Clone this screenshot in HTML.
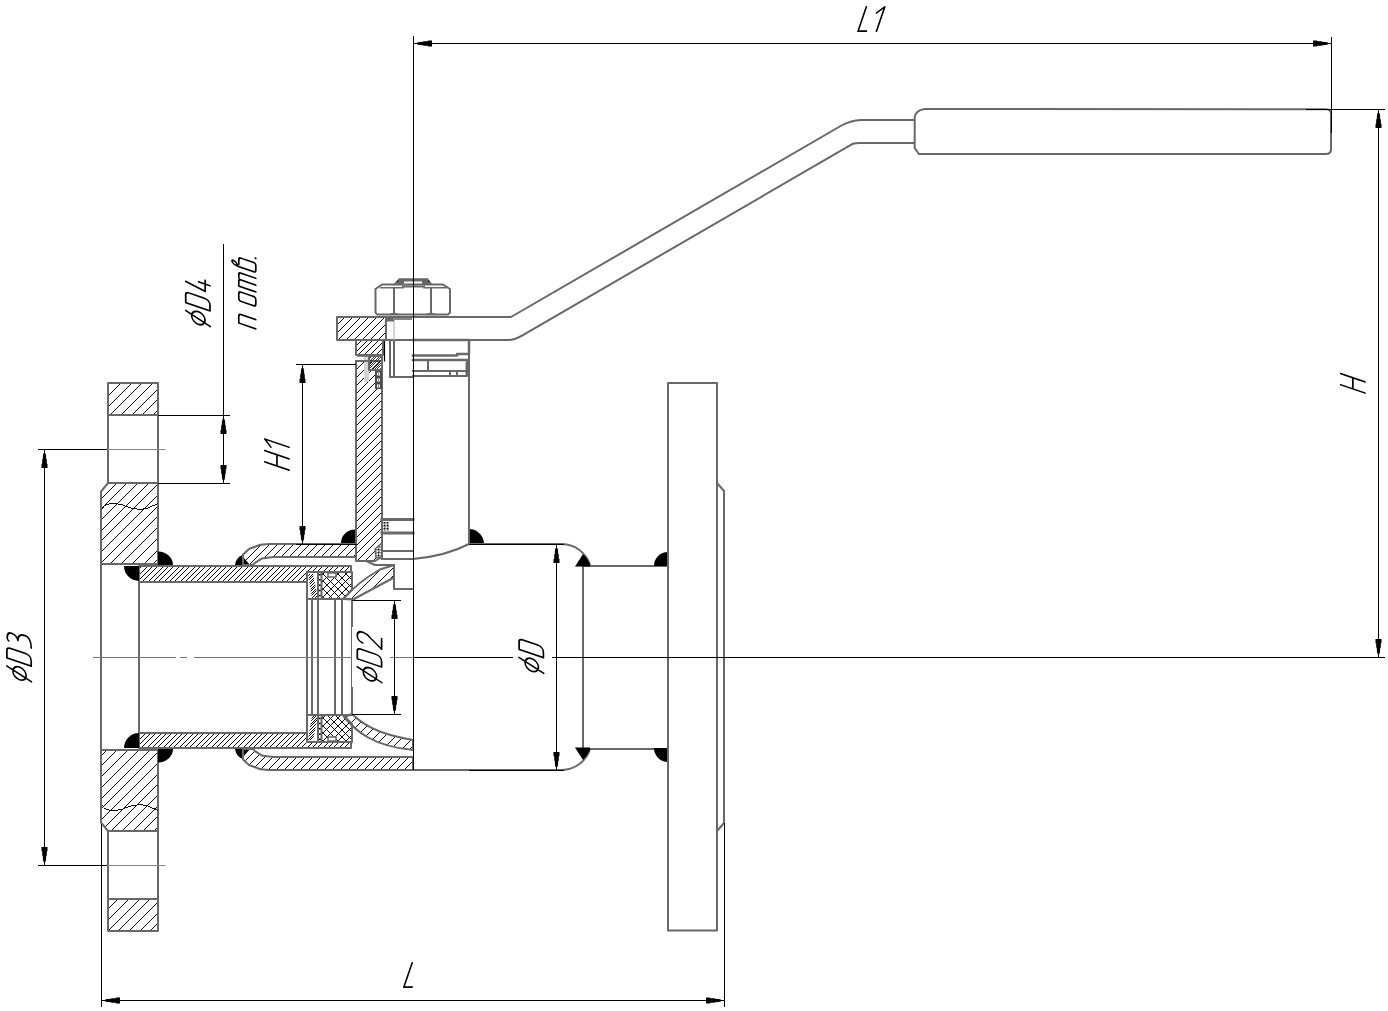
<!DOCTYPE html>
<html><head><meta charset="utf-8"><title>Ball valve drawing</title>
<style>html,body{margin:0;padding:0;background:#fff;overflow:hidden;font-family:"Liberation Sans",sans-serif}svg{display:block}</style>
</head><body><svg width="1388" height="1011" viewBox="0 0 1388 1011">
<defs>
<pattern id="h11" patternUnits="userSpaceOnUse" width="10.8" height="10.8"><path d="M-1,1 L1,-1 M0,10.8 L10.8,0 M9.8,11.8 L11.8,9.8" stroke="#000" stroke-width="1" shape-rendering="crispEdges"/></pattern>
<pattern id="h8" patternUnits="userSpaceOnUse" width="8.2" height="8.2"><path d="M-1,1 L1,-1 M0,8.2 L8.2,0 M7.2,9.2 L9.2,7.2" stroke="#000" stroke-width="1" shape-rendering="crispEdges"/></pattern>
<pattern id="h9" patternUnits="userSpaceOnUse" width="9.5" height="9.5"><path d="M-1,1 L1,-1 M0,9.5 L9.5,0 M8.5,10.5 L10.5,8.5" stroke="#000" stroke-width="1" shape-rendering="crispEdges"/></pattern>
<pattern id="h5" patternUnits="userSpaceOnUse" width="5.3" height="5.3"><path d="M-1,1 L1,-1 M0,5.3 L5.3,0 M4.3,6.3 L6.3,4.3" stroke="#000" stroke-width="1" shape-rendering="crispEdges"/></pattern>
<pattern id="h3" patternUnits="userSpaceOnUse" width="2.6" height="2.6"><path d="M-1,1 L1,-1 M0,2.6 L2.6,0 M1.6,3.6 L3.6,1.6" stroke="#222" stroke-width="0.8"/></pattern>
<pattern id="hx" patternUnits="userSpaceOnUse" width="7.6" height="7.6"><path d="M-1,1 L1,-1 M0,7.6 L7.6,0 M6.6,8.6 L8.6,6.6 M-1,6.6 L1,8.6 M0,0 L7.6,7.6 M6.6,-1 L8.6,1" stroke="#000" stroke-width="1" shape-rendering="crispEdges"/><rect x="2.9" y="2.9" width="1.8" height="1.8" fill="#000"/></pattern>
<pattern id="hd" patternUnits="userSpaceOnUse" width="3" height="3"><rect width="3" height="3" fill="#8a8a8a"/><rect x="0" y="0" width="1" height="1" fill="#000"/><rect x="1.5" y="1.5" width="1.5" height="1.5" fill="#fff"/></pattern>
</defs>
<rect width="1388" height="1011" fill="#fff"/><clipPath id="c1"><path d="M108,383 L158,383 L158,415 L108,415 Z"/></clipPath>
<path clip-path="url(#c1)" d="M15.40,435.00 L87.40,363.00 M26.10,435.00 L98.10,363.00 M36.80,435.00 L108.80,363.00 M47.50,435.00 L119.50,363.00 M58.20,435.00 L130.20,363.00 M68.90,435.00 L140.90,363.00 M79.60,435.00 L151.60,363.00 M90.30,435.00 L162.30,363.00 M101.00,435.00 L173.00,363.00 M111.70,435.00 L183.70,363.00 M122.40,435.00 L194.40,363.00 M133.10,435.00 L205.10,363.00 M143.80,435.00 L215.80,363.00 M154.50,435.00 L226.50,363.00 M165.20,435.00 L237.20,363.00 M175.90,435.00 L247.90,363.00" stroke="#000" stroke-width="0.95" fill="none" shape-rendering="crispEdges"/>
<path d="M108,383 L158,383 L158,415 L108,415 Z" stroke="#686868" stroke-width="2" fill="none" stroke-linejoin="round"/>
<clipPath id="c2"><path d="M 108 931 L 158 931 L 158 899 L 108 899 Z"/></clipPath>
<path clip-path="url(#c2)" d="M12.60,951.00 L84.60,879.00 M23.30,951.00 L95.30,879.00 M34.00,951.00 L106.00,879.00 M44.70,951.00 L116.70,879.00 M55.40,951.00 L127.40,879.00 M66.10,951.00 L138.10,879.00 M76.80,951.00 L148.80,879.00 M87.50,951.00 L159.50,879.00 M98.20,951.00 L170.20,879.00 M108.90,951.00 L180.90,879.00 M119.60,951.00 L191.60,879.00 M130.30,951.00 L202.30,879.00 M141.00,951.00 L213.00,879.00 M151.70,951.00 L223.70,879.00 M162.40,951.00 L234.40,879.00 M173.10,951.00 L245.10,879.00" stroke="#000" stroke-width="0.95" fill="none" shape-rendering="crispEdges"/>
<path d="M 108 931 L 158 931 L 158 899 L 108 899 Z" stroke="#686868" stroke-width="2" fill="none" stroke-linejoin="round"/>
<clipPath id="c3"><path d="M108,483 L158,483 L158,564 L101,564 L101,491.6 Z"/></clipPath>
<path clip-path="url(#c3)" d="M-48.70,584.00 L72.30,463.00 M-38.00,584.00 L83.00,463.00 M-27.30,584.00 L93.70,463.00 M-16.60,584.00 L104.40,463.00 M-5.90,584.00 L115.10,463.00 M4.80,584.00 L125.80,463.00 M15.50,584.00 L136.50,463.00 M26.20,584.00 L147.20,463.00 M36.90,584.00 L157.90,463.00 M47.60,584.00 L168.60,463.00 M58.30,584.00 L179.30,463.00 M69.00,584.00 L190.00,463.00 M79.70,584.00 L200.70,463.00 M90.40,584.00 L211.40,463.00 M101.10,584.00 L222.10,463.00 M111.80,584.00 L232.80,463.00 M122.50,584.00 L243.50,463.00 M133.20,584.00 L254.20,463.00 M143.90,584.00 L264.90,463.00 M154.60,584.00 L275.60,463.00 M165.30,584.00 L286.30,463.00 M176.00,584.00 L297.00,463.00" stroke="#000" stroke-width="0.95" fill="none" shape-rendering="crispEdges"/>
<path d="M108,483 L158,483 L158,564 L101,564 L101,491.6 Z" stroke="#686868" stroke-width="2" fill="none" stroke-linejoin="round"/>
<clipPath id="c4"><path d="M 108 831 L 158 831 L 158 750 L 101 750 L 101 822.4 Z"/></clipPath>
<path clip-path="url(#c4)" d="M-47.80,851.00 L73.20,730.00 M-37.10,851.00 L83.90,730.00 M-26.40,851.00 L94.60,730.00 M-15.70,851.00 L105.30,730.00 M-5.00,851.00 L116.00,730.00 M5.70,851.00 L126.70,730.00 M16.40,851.00 L137.40,730.00 M27.10,851.00 L148.10,730.00 M37.80,851.00 L158.80,730.00 M48.50,851.00 L169.50,730.00 M59.20,851.00 L180.20,730.00 M69.90,851.00 L190.90,730.00 M80.60,851.00 L201.60,730.00 M91.30,851.00 L212.30,730.00 M102.00,851.00 L223.00,730.00 M112.70,851.00 L233.70,730.00 M123.40,851.00 L244.40,730.00 M134.10,851.00 L255.10,730.00 M144.80,851.00 L265.80,730.00 M155.50,851.00 L276.50,730.00 M166.20,851.00 L287.20,730.00 M176.90,851.00 L297.90,730.00" stroke="#000" stroke-width="0.95" fill="none" shape-rendering="crispEdges"/>
<path d="M 108 831 L 158 831 L 158 750 L 101 750 L 101 822.4 Z" stroke="#686868" stroke-width="2" fill="none" stroke-linejoin="round"/>
<path d="M108,415 L108,483 M158,415 L158,483" stroke="#686868" stroke-width="2" fill="none" stroke-linejoin="round" stroke-linecap="square"/>
<path d="M 108 899 L 108 831 M 158 899 L 158 831" stroke="#686868" stroke-width="2" fill="none" stroke-linejoin="round" stroke-linecap="square"/>
<path d="M101.5,508.5 C105,505 108,503.5 112,503.5 C118,503.5 123,505 129,507.3 C135,509.5 141,509.6 146,508.5 C150,507.5 154,505 158,503.5" stroke="#000" stroke-width="0.95" fill="none" shape-rendering="crispEdges"/>
<path d="M 101.5 805.5 C 105 809 108 810.5 112 810.5 C 118 810.5 123 809 129 806.7 C 135 804.5 141 804.4 146 805.5 C 150 806.5 154 809 158 810.5" stroke="#000" stroke-width="0.95" fill="none" shape-rendering="crispEdges"/>
<path d="M101,564 L101,750" stroke="#686868" stroke-width="2" fill="none" stroke-linejoin="round" stroke-linecap="square"/>
<path d="M107,449.5 L165,449.5 M107,865.5 L165,865.5" stroke="#888" stroke-width="1" fill="none" stroke-linejoin="round" stroke-linecap="square"/>
<clipPath id="c5"><path d="M139,566 L351,566 L351,572 L307,572 L307,582 L139,582 Z"/></clipPath>
<path clip-path="url(#c5)" d="M58.24,602.00 L114.24,546.00 M63.57,602.00 L119.57,546.00 M68.90,602.00 L124.90,546.00 M74.23,602.00 L130.23,546.00 M79.56,602.00 L135.56,546.00 M84.89,602.00 L140.89,546.00 M90.22,602.00 L146.22,546.00 M95.55,602.00 L151.55,546.00 M100.88,602.00 L156.88,546.00 M106.21,602.00 L162.21,546.00 M111.54,602.00 L167.54,546.00 M116.87,602.00 L172.87,546.00 M122.20,602.00 L178.20,546.00 M127.53,602.00 L183.53,546.00 M132.86,602.00 L188.86,546.00 M138.19,602.00 L194.19,546.00 M143.52,602.00 L199.52,546.00 M148.85,602.00 L204.85,546.00 M154.18,602.00 L210.18,546.00 M159.51,602.00 L215.51,546.00 M164.84,602.00 L220.84,546.00 M170.17,602.00 L226.17,546.00 M175.50,602.00 L231.50,546.00 M180.83,602.00 L236.83,546.00 M186.16,602.00 L242.16,546.00 M191.49,602.00 L247.49,546.00 M196.82,602.00 L252.82,546.00 M202.15,602.00 L258.15,546.00 M207.48,602.00 L263.48,546.00 M212.81,602.00 L268.81,546.00 M218.14,602.00 L274.14,546.00 M223.47,602.00 L279.47,546.00 M228.80,602.00 L284.80,546.00 M234.13,602.00 L290.13,546.00 M239.46,602.00 L295.46,546.00 M244.79,602.00 L300.79,546.00 M250.12,602.00 L306.12,546.00 M255.45,602.00 L311.45,546.00 M260.78,602.00 L316.78,546.00 M266.11,602.00 L322.11,546.00 M271.44,602.00 L327.44,546.00 M276.77,602.00 L332.77,546.00 M282.10,602.00 L338.10,546.00 M287.43,602.00 L343.43,546.00 M292.76,602.00 L348.76,546.00 M298.09,602.00 L354.09,546.00 M303.42,602.00 L359.42,546.00 M308.75,602.00 L364.75,546.00 M314.08,602.00 L370.08,546.00 M319.41,602.00 L375.41,546.00 M324.74,602.00 L380.74,546.00 M330.07,602.00 L386.07,546.00 M335.40,602.00 L391.40,546.00 M340.73,602.00 L396.73,546.00 M346.06,602.00 L402.06,546.00 M351.39,602.00 L407.39,546.00 M356.72,602.00 L412.72,546.00 M362.05,602.00 L418.05,546.00 M367.38,602.00 L423.38,546.00" stroke="#000" stroke-width="0.95" fill="none" shape-rendering="crispEdges"/>
<path d="M139,566 L351,566 L351,572 L307,572 L307,582 L139,582 Z" stroke="#686868" stroke-width="2" fill="none" stroke-linejoin="round"/>
<clipPath id="c6"><path d="M139,748 L351,748 L351,742 L307,742 L307,733 L139,733 Z"/></clipPath>
<path clip-path="url(#c6)" d="M62.80,768.00 L117.80,713.00 M68.13,768.00 L123.13,713.00 M73.46,768.00 L128.46,713.00 M78.79,768.00 L133.79,713.00 M84.12,768.00 L139.12,713.00 M89.45,768.00 L144.45,713.00 M94.78,768.00 L149.78,713.00 M100.11,768.00 L155.11,713.00 M105.44,768.00 L160.44,713.00 M110.77,768.00 L165.77,713.00 M116.10,768.00 L171.10,713.00 M121.43,768.00 L176.43,713.00 M126.76,768.00 L181.76,713.00 M132.09,768.00 L187.09,713.00 M137.42,768.00 L192.42,713.00 M142.75,768.00 L197.75,713.00 M148.08,768.00 L203.08,713.00 M153.41,768.00 L208.41,713.00 M158.74,768.00 L213.74,713.00 M164.07,768.00 L219.07,713.00 M169.40,768.00 L224.40,713.00 M174.73,768.00 L229.73,713.00 M180.06,768.00 L235.06,713.00 M185.39,768.00 L240.39,713.00 M190.72,768.00 L245.72,713.00 M196.05,768.00 L251.05,713.00 M201.38,768.00 L256.38,713.00 M206.71,768.00 L261.71,713.00 M212.04,768.00 L267.04,713.00 M217.37,768.00 L272.37,713.00 M222.70,768.00 L277.70,713.00 M228.03,768.00 L283.03,713.00 M233.36,768.00 L288.36,713.00 M238.69,768.00 L293.69,713.00 M244.02,768.00 L299.02,713.00 M249.35,768.00 L304.35,713.00 M254.68,768.00 L309.68,713.00 M260.01,768.00 L315.01,713.00 M265.34,768.00 L320.34,713.00 M270.67,768.00 L325.67,713.00 M276.00,768.00 L331.00,713.00 M281.33,768.00 L336.33,713.00 M286.66,768.00 L341.66,713.00 M291.99,768.00 L346.99,713.00 M297.32,768.00 L352.32,713.00 M302.65,768.00 L357.65,713.00 M307.98,768.00 L362.98,713.00 M313.31,768.00 L368.31,713.00 M318.64,768.00 L373.64,713.00 M323.97,768.00 L378.97,713.00 M329.30,768.00 L384.30,713.00 M334.63,768.00 L389.63,713.00 M339.96,768.00 L394.96,713.00 M345.29,768.00 L400.29,713.00 M350.62,768.00 L405.62,713.00 M355.95,768.00 L410.95,713.00 M361.28,768.00 L416.28,713.00 M366.61,768.00 L421.61,713.00" stroke="#000" stroke-width="0.95" fill="none" shape-rendering="crispEdges"/>
<path d="M139,748 L351,748 L351,742 L307,742 L307,733 L139,733 Z" stroke="#686868" stroke-width="2" fill="none" stroke-linejoin="round"/>
<path d="M139,582 L139,733" stroke="#686868" stroke-width="2" fill="none" stroke-linejoin="round" stroke-linecap="square"/>
<path d="M139,566 L124,566 A15,15 0 0 0 139,581 Z" stroke="none" stroke-width="0" fill="#000" />
<path d="M 139 748 L 124 748 A 15 15 0 0 1 139 733 Z" stroke="none" stroke-width="0" fill="#000" />
<path d="M158,565 L173,565 A15,13.5 0 0 0 158,551.5 Z" stroke="none" stroke-width="0" fill="#000" />
<path d="M 158 749 L 173 749 A 15 13.5 0 0 1 158 762.5 Z" stroke="none" stroke-width="0" fill="#000" />
<path d="M235,565 Q236,557.5 242.5,555 L243.5,557.5 L250,565 Z" stroke="none" stroke-width="0" fill="#000" />
<path d="M 235 749 Q 236 756.5 242.5 759 L 243.5 756.5 L 250 749 Z" stroke="none" stroke-width="0" fill="#000" />
<clipPath id="c7"><path d="M356,544 L269,544 L260.5,544.7 L249,549 L243,554.5 L243,565 L252.5,565 L255.3,562.7 L261.7,558.6 L267.4,557.7 L274,557 L356,557 Z"/></clipPath>
<path clip-path="url(#c7)" d="M157.20,585.00 L218.20,524.00 M165.20,585.00 L226.20,524.00 M173.20,585.00 L234.20,524.00 M181.20,585.00 L242.20,524.00 M189.20,585.00 L250.20,524.00 M197.20,585.00 L258.20,524.00 M205.20,585.00 L266.20,524.00 M213.20,585.00 L274.20,524.00 M221.20,585.00 L282.20,524.00 M229.20,585.00 L290.20,524.00 M237.20,585.00 L298.20,524.00 M245.20,585.00 L306.20,524.00 M253.20,585.00 L314.20,524.00 M261.20,585.00 L322.20,524.00 M269.20,585.00 L330.20,524.00 M277.20,585.00 L338.20,524.00 M285.20,585.00 L346.20,524.00 M293.20,585.00 L354.20,524.00 M301.20,585.00 L362.20,524.00 M309.20,585.00 L370.20,524.00 M317.20,585.00 L378.20,524.00 M325.20,585.00 L386.20,524.00 M333.20,585.00 L394.20,524.00 M341.20,585.00 L402.20,524.00 M349.20,585.00 L410.20,524.00 M357.20,585.00 L418.20,524.00 M365.20,585.00 L426.20,524.00 M373.20,585.00 L434.20,524.00" stroke="#000" stroke-width="0.95" fill="none" shape-rendering="crispEdges"/>
<path d="M356,544 L269,544 L260.5,544.7 L249,549 L243,554.5 L243,565 L252.5,565 L255.3,562.7 L261.7,558.6 L267.4,557.7 L274,557 L356,557 Z" stroke="#686868" stroke-width="2" fill="none" stroke-linejoin="round"/>
<clipPath id="c8"><path d="M 413 770 L 269 770 L 260.5 769.3 L 249 765 L 243 759.5 L 243 749 L 252.5 749 L 255.3 751.3 L 261.7 755.4 L 267.4 756.3 L 274 757 L 413 757 Z"/></clipPath>
<path clip-path="url(#c8)" d="M159.60,790.00 L220.60,729.00 M167.60,790.00 L228.60,729.00 M175.60,790.00 L236.60,729.00 M183.60,790.00 L244.60,729.00 M191.60,790.00 L252.60,729.00 M199.60,790.00 L260.60,729.00 M207.60,790.00 L268.60,729.00 M215.60,790.00 L276.60,729.00 M223.60,790.00 L284.60,729.00 M231.60,790.00 L292.60,729.00 M239.60,790.00 L300.60,729.00 M247.60,790.00 L308.60,729.00 M255.60,790.00 L316.60,729.00 M263.60,790.00 L324.60,729.00 M271.60,790.00 L332.60,729.00 M279.60,790.00 L340.60,729.00 M287.60,790.00 L348.60,729.00 M295.60,790.00 L356.60,729.00 M303.60,790.00 L364.60,729.00 M311.60,790.00 L372.60,729.00 M319.60,790.00 L380.60,729.00 M327.60,790.00 L388.60,729.00 M335.60,790.00 L396.60,729.00 M343.60,790.00 L404.60,729.00 M351.60,790.00 L412.60,729.00 M359.60,790.00 L420.60,729.00 M367.60,790.00 L428.60,729.00 M375.60,790.00 L436.60,729.00 M383.60,790.00 L444.60,729.00 M391.60,790.00 L452.60,729.00 M399.60,790.00 L460.60,729.00 M407.60,790.00 L468.60,729.00 M415.60,790.00 L476.60,729.00 M423.60,790.00 L484.60,729.00 M431.60,790.00 L492.60,729.00" stroke="#000" stroke-width="0.95" fill="none" shape-rendering="crispEdges"/>
<path d="M 413 770 L 269 770 L 260.5 769.3 L 249 765 L 243 759.5 L 243 749 L 252.5 749 L 255.3 751.3 L 261.7 755.4 L 267.4 756.3 L 274 757 L 413 757 Z" stroke="#686868" stroke-width="2" fill="none" stroke-linejoin="round"/>
<path d="M355,543 L341,543 A14,13.5 0 0 1 355,529.5 Z" stroke="none" stroke-width="0" fill="#000" />
<path d="M469,544 L484,544 A15,15 0 0 0 469,529 Z" stroke="none" stroke-width="0" fill="#000" />
<clipPath id="c9"><path d="M356,361 L382,361 L382,557 L375,561 L356,561 Z"/></clipPath>
<path clip-path="url(#c9)" d="M88.60,581.00 L328.60,341.00 M96.60,581.00 L336.60,341.00 M104.60,581.00 L344.60,341.00 M112.60,581.00 L352.60,341.00 M120.60,581.00 L360.60,341.00 M128.60,581.00 L368.60,341.00 M136.60,581.00 L376.60,341.00 M144.60,581.00 L384.60,341.00 M152.60,581.00 L392.60,341.00 M160.60,581.00 L400.60,341.00 M168.60,581.00 L408.60,341.00 M176.60,581.00 L416.60,341.00 M184.60,581.00 L424.60,341.00 M192.60,581.00 L432.60,341.00 M200.60,581.00 L440.60,341.00 M208.60,581.00 L448.60,341.00 M216.60,581.00 L456.60,341.00 M224.60,581.00 L464.60,341.00 M232.60,581.00 L472.60,341.00 M240.60,581.00 L480.60,341.00 M248.60,581.00 L488.60,341.00 M256.60,581.00 L496.60,341.00 M264.60,581.00 L504.60,341.00 M272.60,581.00 L512.60,341.00 M280.60,581.00 L520.60,341.00 M288.60,581.00 L528.60,341.00 M296.60,581.00 L536.60,341.00 M304.60,581.00 L544.60,341.00 M312.60,581.00 L552.60,341.00 M320.60,581.00 L560.60,341.00 M328.60,581.00 L568.60,341.00 M336.60,581.00 L576.60,341.00 M344.60,581.00 L584.60,341.00 M352.60,581.00 L592.60,341.00 M360.60,581.00 L600.60,341.00 M368.60,581.00 L608.60,341.00 M376.60,581.00 L616.60,341.00 M384.60,581.00 L624.60,341.00 M392.60,581.00 L632.60,341.00 M400.60,581.00 L640.60,341.00" stroke="#000" stroke-width="0.95" fill="none" shape-rendering="crispEdges"/>
<path d="M356,361 L382,361 L382,557 L375,561 L356,561 Z" stroke="#686868" stroke-width="2" fill="none" stroke-linejoin="round"/>
<clipPath id="c10"><path d="M356,340 L383,340 L383,355 L356,355 Z"/></clipPath>
<path clip-path="url(#c10)" d="M280.40,375.00 L335.40,320.00 M286.20,375.00 L341.20,320.00 M292.00,375.00 L347.00,320.00 M297.80,375.00 L352.80,320.00 M303.60,375.00 L358.60,320.00 M309.40,375.00 L364.40,320.00 M315.20,375.00 L370.20,320.00 M321.00,375.00 L376.00,320.00 M326.80,375.00 L381.80,320.00 M332.60,375.00 L387.60,320.00 M338.40,375.00 L393.40,320.00 M344.20,375.00 L399.20,320.00 M350.00,375.00 L405.00,320.00 M355.80,375.00 L410.80,320.00 M361.60,375.00 L416.60,320.00 M367.40,375.00 L422.40,320.00 M373.20,375.00 L428.20,320.00 M379.00,375.00 L434.00,320.00 M384.80,375.00 L439.80,320.00 M390.60,375.00 L445.60,320.00 M396.40,375.00 L451.40,320.00 M402.20,375.00 L457.20,320.00" stroke="#000" stroke-width="0.95" fill="none" shape-rendering="crispEdges"/>
<path d="M356,340 L383,340 L383,355 L356,355 Z" stroke="#686868" stroke-width="2" fill="none" stroke-linejoin="round"/>
<rect x="364" y="356" width="5" height="26" fill="#d4d4d4"/>
<clipPath id="c11"><path d="M369,356 L382,356 L382,370 L369,370 Z"/></clipPath>
<path clip-path="url(#c11)" d="M293.80,390.00 L347.80,336.00 M296.40,390.00 L350.40,336.00 M299.00,390.00 L353.00,336.00 M301.60,390.00 L355.60,336.00 M304.20,390.00 L358.20,336.00 M306.80,390.00 L360.80,336.00 M309.40,390.00 L363.40,336.00 M312.00,390.00 L366.00,336.00 M314.60,390.00 L368.60,336.00 M317.20,390.00 L371.20,336.00 M319.80,390.00 L373.80,336.00 M322.40,390.00 L376.40,336.00 M325.00,390.00 L379.00,336.00 M327.60,390.00 L381.60,336.00 M330.20,390.00 L384.20,336.00 M332.80,390.00 L386.80,336.00 M335.40,390.00 L389.40,336.00 M338.00,390.00 L392.00,336.00 M340.60,390.00 L394.60,336.00 M343.20,390.00 L397.20,336.00 M345.80,390.00 L399.80,336.00 M348.40,390.00 L402.40,336.00 M351.00,390.00 L405.00,336.00 M353.60,390.00 L407.60,336.00 M356.20,390.00 L410.20,336.00 M358.80,390.00 L412.80,336.00 M361.40,390.00 L415.40,336.00 M364.00,390.00 L418.00,336.00 M366.60,390.00 L420.60,336.00 M369.20,390.00 L423.20,336.00 M371.80,390.00 L425.80,336.00 M374.40,390.00 L428.40,336.00 M377.00,390.00 L431.00,336.00 M379.60,390.00 L433.60,336.00 M382.20,390.00 L436.20,336.00 M384.80,390.00 L438.80,336.00 M387.40,390.00 L441.40,336.00 M390.00,390.00 L444.00,336.00 M392.60,390.00 L446.60,336.00 M395.20,390.00 L449.20,336.00 M397.80,390.00 L451.80,336.00 M400.40,390.00 L454.40,336.00" stroke="#222" stroke-width="0.9" fill="none" shape-rendering="crispEdges"/>
<path d="M369,356 L382,356 L382,370 L369,370 Z" stroke="#686868" stroke-width="2" fill="none" stroke-linejoin="round"/>
<rect x="375" y="371" width="7" height="18" fill="#4a4a4a"/>
<rect x="377" y="372.5" width="3" height="3" fill="#fff"/><rect x="378" y="373.5" width="1" height="1" fill="#000"/>
<rect x="377" y="378.5" width="3" height="3" fill="#fff"/><rect x="378" y="379.5" width="1" height="1" fill="#000"/>
<rect x="377" y="384.5" width="3" height="3" fill="#fff"/><rect x="378" y="385.5" width="1" height="1" fill="#000"/>
<path d="M356,361 L369,361" stroke="#686868" stroke-width="2" fill="none" stroke-linejoin="round" stroke-linecap="square"/>
<path d="M358,356 L369,356" stroke="#686868" stroke-width="1.5" fill="none" stroke-linejoin="round" stroke-linecap="square"/>
<path d="M390,340 L390,377 L413,377 M394,340 L394,377" stroke="#686868" stroke-width="2" fill="none" stroke-linejoin="round" stroke-linecap="square"/>
<path d="M384.5,340 L384.5,361.5" stroke="#000" stroke-width="1.2" fill="none" stroke-linecap="butt"/>
<path d="M413,340 L469,340 L469,354 L457,354 L457,355.5 L413,355.5" stroke="#686868" stroke-width="2.5" fill="none" stroke-linejoin="round" stroke-linecap="square"/>
<path d="M413,360 L467,360" stroke="#686868" stroke-width="2.5" fill="none" stroke-linejoin="round" stroke-linecap="square"/>
<path d="M467,360 L467,376 L413,376 M428,360 L428,371 M413,371 L466,371 M450,371 L450,376 M457,371 L457,376" stroke="#686868" stroke-width="2" fill="none" stroke-linejoin="round" stroke-linecap="square"/>
<rect x="465.5" y="363" width="3.5" height="13" fill="#686868"/>
<path d="M469,340 L469,544" stroke="#686868" stroke-width="2" fill="none" stroke-linejoin="round" stroke-linecap="square"/>
<path d="M382,519.5 L413,519.5" stroke="#686868" stroke-width="3" fill="none" stroke-linejoin="round" stroke-linecap="square"/>
<path d="M382,533 L413,533" stroke="#686868" stroke-width="3" fill="none" stroke-linejoin="round" stroke-linecap="square"/>
<rect x="383" y="522" width="6" height="9" fill="url(#hd)"/>
<path d="M382,551 L413,551 M382,559 L413,559" stroke="#686868" stroke-width="2" fill="none" stroke-linejoin="round" stroke-linecap="square"/>
<path d="M375,549 L382,543 L382,557 L376,558 Z" fill="url(#hd)" stroke="#686868" stroke-width="1.5"/>
<path d="M413,559 Q446,556 469,544" stroke="#686868" stroke-width="2" fill="none" stroke-linejoin="round" stroke-linecap="square"/>
<clipPath id="c12"><path d="M343,599 Q358,582 380,569.5 L394,565 L394,577.5 L353,599.5 Z"/></clipPath>
<path clip-path="url(#c12)" d="M245.00,619.50 L319.50,545.00 M254.50,619.50 L329.00,545.00 M264.00,619.50 L338.50,545.00 M273.50,619.50 L348.00,545.00 M283.00,619.50 L357.50,545.00 M292.50,619.50 L367.00,545.00 M302.00,619.50 L376.50,545.00 M311.50,619.50 L386.00,545.00 M321.00,619.50 L395.50,545.00 M330.50,619.50 L405.00,545.00 M340.00,619.50 L414.50,545.00 M349.50,619.50 L424.00,545.00 M359.00,619.50 L433.50,545.00 M368.50,619.50 L443.00,545.00 M378.00,619.50 L452.50,545.00 M387.50,619.50 L462.00,545.00 M397.00,619.50 L471.50,545.00 M406.50,619.50 L481.00,545.00" stroke="#000" stroke-width="0.95" fill="none" shape-rendering="crispEdges"/>
<path d="M343,599 Q358,582 380,569.5 L394,565 L394,577.5 L353,599.5 Z" stroke="#686868" stroke-width="2" fill="none" stroke-linejoin="round"/>
<path d="M366,561 L375,565 L394,565 L394,589 L413,589" stroke="#686868" stroke-width="2" fill="none" stroke-linejoin="round" stroke-linecap="square"/>
<clipPath id="c13"><path d="M344,717 C356,731 372,746 413,750 L413,740 C390,736 368,730 352,714 Z"/></clipPath>
<path clip-path="url(#c13)" d="M246.50,770.00 L322.50,694.00 M256.00,770.00 L332.00,694.00 M265.50,770.00 L341.50,694.00 M275.00,770.00 L351.00,694.00 M284.50,770.00 L360.50,694.00 M294.00,770.00 L370.00,694.00 M303.50,770.00 L379.50,694.00 M313.00,770.00 L389.00,694.00 M322.50,770.00 L398.50,694.00 M332.00,770.00 L408.00,694.00 M341.50,770.00 L417.50,694.00 M351.00,770.00 L427.00,694.00 M360.50,770.00 L436.50,694.00 M370.00,770.00 L446.00,694.00 M379.50,770.00 L455.50,694.00 M389.00,770.00 L465.00,694.00 M398.50,770.00 L474.50,694.00 M408.00,770.00 L484.00,694.00 M417.50,770.00 L493.50,694.00 M427.00,770.00 L503.00,694.00" stroke="#000" stroke-width="0.95" fill="none" shape-rendering="crispEdges"/>
<path d="M344,717 C356,731 372,746 413,750 L413,740 C390,736 368,730 352,714 Z" stroke="#686868" stroke-width="2" fill="none" stroke-linejoin="round"/>
<clipPath id="c14"><path d="M321.5,572 L352,572 L352,590 L343,599 L325,599 Q321.5,599 321.5,595.5 Z"/></clipPath>
<path clip-path="url(#c14)" d="M232.20,619.00 L299.20,552.00 M239.80,619.00 L306.80,552.00 M247.40,619.00 L314.40,552.00 M255.00,619.00 L322.00,552.00 M262.60,619.00 L329.60,552.00 M270.20,619.00 L337.20,552.00 M277.80,619.00 L344.80,552.00 M285.40,619.00 L352.40,552.00 M293.00,619.00 L360.00,552.00 M300.60,619.00 L367.60,552.00 M308.20,619.00 L375.20,552.00 M315.80,619.00 L382.80,552.00 M323.40,619.00 L390.40,552.00 M331.00,619.00 L398.00,552.00 M338.60,619.00 L405.60,552.00 M346.20,619.00 L413.20,552.00 M353.80,619.00 L420.80,552.00 M361.40,619.00 L428.40,552.00 M369.00,619.00 L436.00,552.00 M232.80,552.00 L299.80,619.00 M240.40,552.00 L307.40,619.00 M248.00,552.00 L315.00,619.00 M255.60,552.00 L322.60,619.00 M263.20,552.00 L330.20,619.00 M270.80,552.00 L337.80,619.00 M278.40,552.00 L345.40,619.00 M286.00,552.00 L353.00,619.00 M293.60,552.00 L360.60,619.00 M301.20,552.00 L368.20,619.00 M308.80,552.00 L375.80,619.00 M316.40,552.00 L383.40,619.00 M324.00,552.00 L391.00,619.00 M331.60,552.00 L398.60,619.00 M339.20,552.00 L406.20,619.00 M346.80,552.00 L413.80,619.00 M354.40,552.00 L421.40,619.00 M362.00,552.00 L429.00,619.00 M369.60,552.00 L436.60,619.00" stroke="#000" stroke-width="0.95" fill="none" shape-rendering="crispEdges"/>
<path d="M321.5,572 L352,572 L352,590 L343,599 L325,599 Q321.5,599 321.5,595.5 Z" stroke="#686868" stroke-width="2" fill="none" stroke-linejoin="round"/>
<clipPath id="c15"><path d="M 321.5 742 L 352 742 L 352 724 L 343 715 L 325 715 Q 321.5 715 321.5 718.5 Z"/></clipPath>
<path clip-path="url(#c15)" d="M233.60,762.00 L300.60,695.00 M241.20,762.00 L308.20,695.00 M248.80,762.00 L315.80,695.00 M256.40,762.00 L323.40,695.00 M264.00,762.00 L331.00,695.00 M271.60,762.00 L338.60,695.00 M279.20,762.00 L346.20,695.00 M286.80,762.00 L353.80,695.00 M294.40,762.00 L361.40,695.00 M302.00,762.00 L369.00,695.00 M309.60,762.00 L376.60,695.00 M317.20,762.00 L384.20,695.00 M324.80,762.00 L391.80,695.00 M332.40,762.00 L399.40,695.00 M340.00,762.00 L407.00,695.00 M347.60,762.00 L414.60,695.00 M355.20,762.00 L422.20,695.00 M362.80,762.00 L429.80,695.00 M370.40,762.00 L437.40,695.00 M231.40,695.00 L298.40,762.00 M239.00,695.00 L306.00,762.00 M246.60,695.00 L313.60,762.00 M254.20,695.00 L321.20,762.00 M261.80,695.00 L328.80,762.00 M269.40,695.00 L336.40,762.00 M277.00,695.00 L344.00,762.00 M284.60,695.00 L351.60,762.00 M292.20,695.00 L359.20,762.00 M299.80,695.00 L366.80,762.00 M307.40,695.00 L374.40,762.00 M315.00,695.00 L382.00,762.00 M322.60,695.00 L389.60,762.00 M330.20,695.00 L397.20,762.00 M337.80,695.00 L404.80,762.00 M345.40,695.00 L412.40,762.00 M353.00,695.00 L420.00,762.00 M360.60,695.00 L427.60,762.00 M368.20,695.00 L435.20,762.00" stroke="#000" stroke-width="0.95" fill="none" shape-rendering="crispEdges"/>
<path d="M 321.5 742 L 352 742 L 352 724 L 343 715 L 325 715 Q 321.5 715 321.5 718.5 Z" stroke="#686868" stroke-width="2" fill="none" stroke-linejoin="round"/>
<clipPath id="c16"><path d="M308,574 L313,574 L318,598 L312,598 Z"/></clipPath>
<path clip-path="url(#c16)" d="M221.80,618.00 L285.80,554.00 M224.40,618.00 L288.40,554.00 M227.00,618.00 L291.00,554.00 M229.60,618.00 L293.60,554.00 M232.20,618.00 L296.20,554.00 M234.80,618.00 L298.80,554.00 M237.40,618.00 L301.40,554.00 M240.00,618.00 L304.00,554.00 M242.60,618.00 L306.60,554.00 M245.20,618.00 L309.20,554.00 M247.80,618.00 L311.80,554.00 M250.40,618.00 L314.40,554.00 M253.00,618.00 L317.00,554.00 M255.60,618.00 L319.60,554.00 M258.20,618.00 L322.20,554.00 M260.80,618.00 L324.80,554.00 M263.40,618.00 L327.40,554.00 M266.00,618.00 L330.00,554.00 M268.60,618.00 L332.60,554.00 M271.20,618.00 L335.20,554.00 M273.80,618.00 L337.80,554.00 M276.40,618.00 L340.40,554.00 M279.00,618.00 L343.00,554.00 M281.60,618.00 L345.60,554.00 M284.20,618.00 L348.20,554.00 M286.80,618.00 L350.80,554.00 M289.40,618.00 L353.40,554.00 M292.00,618.00 L356.00,554.00 M294.60,618.00 L358.60,554.00 M297.20,618.00 L361.20,554.00 M299.80,618.00 L363.80,554.00 M302.40,618.00 L366.40,554.00 M305.00,618.00 L369.00,554.00 M307.60,618.00 L371.60,554.00 M310.20,618.00 L374.20,554.00 M312.80,618.00 L376.80,554.00 M315.40,618.00 L379.40,554.00 M318.00,618.00 L382.00,554.00 M320.60,618.00 L384.60,554.00 M323.20,618.00 L387.20,554.00 M325.80,618.00 L389.80,554.00 M328.40,618.00 L392.40,554.00 M331.00,618.00 L395.00,554.00 M333.60,618.00 L397.60,554.00 M336.20,618.00 L400.20,554.00" stroke="#000" stroke-width="0.95" fill="none" shape-rendering="crispEdges"/>
<clipPath id="c17"><path d="M 308 740 L 313 740 L 318 716 L 312 716 Z"/></clipPath>
<path clip-path="url(#c17)" d="M222.80,760.00 L286.80,696.00 M225.40,760.00 L289.40,696.00 M228.00,760.00 L292.00,696.00 M230.60,760.00 L294.60,696.00 M233.20,760.00 L297.20,696.00 M235.80,760.00 L299.80,696.00 M238.40,760.00 L302.40,696.00 M241.00,760.00 L305.00,696.00 M243.60,760.00 L307.60,696.00 M246.20,760.00 L310.20,696.00 M248.80,760.00 L312.80,696.00 M251.40,760.00 L315.40,696.00 M254.00,760.00 L318.00,696.00 M256.60,760.00 L320.60,696.00 M259.20,760.00 L323.20,696.00 M261.80,760.00 L325.80,696.00 M264.40,760.00 L328.40,696.00 M267.00,760.00 L331.00,696.00 M269.60,760.00 L333.60,696.00 M272.20,760.00 L336.20,696.00 M274.80,760.00 L338.80,696.00 M277.40,760.00 L341.40,696.00 M280.00,760.00 L344.00,696.00 M282.60,760.00 L346.60,696.00 M285.20,760.00 L349.20,696.00 M287.80,760.00 L351.80,696.00 M290.40,760.00 L354.40,696.00 M293.00,760.00 L357.00,696.00 M295.60,760.00 L359.60,696.00 M298.20,760.00 L362.20,696.00 M300.80,760.00 L364.80,696.00 M303.40,760.00 L367.40,696.00 M306.00,760.00 L370.00,696.00 M308.60,760.00 L372.60,696.00 M311.20,760.00 L375.20,696.00 M313.80,760.00 L377.80,696.00 M316.40,760.00 L380.40,696.00 M319.00,760.00 L383.00,696.00 M321.60,760.00 L385.60,696.00 M324.20,760.00 L388.20,696.00 M326.80,760.00 L390.80,696.00 M329.40,760.00 L393.40,696.00 M332.00,760.00 L396.00,696.00 M334.60,760.00 L398.60,696.00 M337.20,760.00 L401.20,696.00" stroke="#000" stroke-width="0.95" fill="none" shape-rendering="crispEdges"/>
<path d="M307,572 L307,599 L352,599" stroke="#686868" stroke-width="2" fill="none" stroke-linejoin="round" stroke-linecap="square"/>
<path d="M 307 742 L 307 715 L 352 715" stroke="#686868" stroke-width="2" fill="none" stroke-linejoin="round" stroke-linecap="square"/>
<path d="M318,572 L318,599" stroke="#686868" stroke-width="2" fill="none" stroke-linejoin="round" stroke-linecap="square"/>
<path d="M 318 742 L 318 715" stroke="#686868" stroke-width="2" fill="none" stroke-linejoin="round" stroke-linecap="square"/>
<rect x="319" y="573.9" width="1.6" height="1.6" fill="#000"/>
<rect x="319" y="738.5" width="1.6" height="1.6" fill="#000"/>
<rect x="319" y="579.0" width="1.6" height="1.6" fill="#000"/>
<rect x="319" y="733.4" width="1.6" height="1.6" fill="#000"/>
<rect x="319" y="584.4" width="1.6" height="1.6" fill="#000"/>
<rect x="319" y="728.0" width="1.6" height="1.6" fill="#000"/>
<rect x="319" y="589.7" width="1.6" height="1.6" fill="#000"/>
<rect x="319" y="722.7" width="1.6" height="1.6" fill="#000"/>
<rect x="319" y="594.8" width="1.6" height="1.6" fill="#000"/>
<rect x="319" y="717.6" width="1.6" height="1.6" fill="#000"/>
<rect x="328" y="573" width="8" height="4" fill="white" stroke="#686868" stroke-width="1.5"/>
<rect x="328" y="737" width="8" height="4" fill="white" stroke="#686868" stroke-width="1.5"/>
<path d="M307,599 L307,716" stroke="#686868" stroke-width="2" fill="none" stroke-linejoin="round" stroke-linecap="square"/>
<path d="M312,599 L312,715" stroke="#686868" stroke-width="2" fill="none" stroke-linejoin="round" stroke-linecap="square"/>
<path d="M318,599 L318,715" stroke="#686868" stroke-width="2" fill="none" stroke-linejoin="round" stroke-linecap="square"/>
<path d="M335,599 L335,715" stroke="#686868" stroke-width="2" fill="none" stroke-linejoin="round" stroke-linecap="square"/>
<path d="M342,599 L342,715" stroke="#686868" stroke-width="2" fill="none" stroke-linejoin="round" stroke-linecap="square"/>
<path d="M352,600 L352,626 M352,688 L352,715" stroke="#686868" stroke-width="2" fill="none" stroke-linejoin="round" stroke-linecap="square"/>
<path d="M351.5,626 L351.5,688" stroke="#686868" stroke-width="1" fill="none" stroke-linejoin="round" stroke-linecap="square"/>
<path d="M469,544 L562,544 A30,30 0 0 1 590,565" stroke="#686868" stroke-width="2" fill="none" stroke-linejoin="round" stroke-linecap="square"/>
<path d="M 469 770 L 562 770 A 30 30 0 0 0 590 749" stroke="#686868" stroke-width="2" fill="none" stroke-linejoin="round" stroke-linecap="square"/>
<path d="M413,770 L469,770" stroke="#686868" stroke-width="2" fill="none" stroke-linejoin="round" stroke-linecap="square"/>
<path d="M583,566 L668,566 M583,566 L583,749 L668,749" stroke="#686868" stroke-width="2" fill="none" stroke-linejoin="round" stroke-linecap="square"/>
<path d="M575,566.5 L583,554 A30,30 0 0 1 590,564 L590,566.5 Z" stroke="none" stroke-width="0" fill="#000" />
<path d="M 575 747.5 L 583 760 A 30 30 0 0 0 590 750 L 590 747.5 Z" stroke="none" stroke-width="0" fill="#000" />
<path d="M668,566 L654,566 A14,14 0 0 1 668,552 Z" stroke="none" stroke-width="0" fill="#000" />
<path d="M 668 748 L 654 748 A 14 14 0 0 0 668 762 Z" stroke="none" stroke-width="0" fill="#000" />
<path d="M668,383 L717,383 L717,930.5 L668,930.5 Z" stroke="#686868" stroke-width="2" fill="none" stroke-linejoin="round" stroke-linecap="square"/>
<path d="M717,483 L724,491 L724,823 L717,831" stroke="#686868" stroke-width="2" fill="none" stroke-linejoin="round" stroke-linecap="square"/>
<clipPath id="c18"><path d="M337,317 L386,317 L386,340 L337,340 Z"/></clipPath>
<path clip-path="url(#c18)" d="M253.60,360.00 L316.60,297.00 M261.60,360.00 L324.60,297.00 M269.60,360.00 L332.60,297.00 M277.60,360.00 L340.60,297.00 M285.60,360.00 L348.60,297.00 M293.60,360.00 L356.60,297.00 M301.60,360.00 L364.60,297.00 M309.60,360.00 L372.60,297.00 M317.60,360.00 L380.60,297.00 M325.60,360.00 L388.60,297.00 M333.60,360.00 L396.60,297.00 M341.60,360.00 L404.60,297.00 M349.60,360.00 L412.60,297.00 M357.60,360.00 L420.60,297.00 M365.60,360.00 L428.60,297.00 M373.60,360.00 L436.60,297.00 M381.60,360.00 L444.60,297.00 M389.60,360.00 L452.60,297.00 M397.60,360.00 L460.60,297.00 M405.60,360.00 L468.60,297.00" stroke="#000" stroke-width="0.95" fill="none" shape-rendering="crispEdges"/>
<path d="M337,317 L386,317 L386,340 L337,340 Z" stroke="#686868" stroke-width="2" fill="none" stroke-linejoin="round"/>
<path d="M386,317 L511,317 L841.5,125.5 Q850,120.6 861,120 L915,120" stroke="#686868" stroke-width="2" fill="none" stroke-linejoin="round" stroke-linecap="square"/>
<path d="M386,340 L508,340 Q514.5,340 522,335.6 L853,143.7 Q855,143 860,143 L915,143" stroke="#686868" stroke-width="2" fill="none" stroke-linejoin="round" stroke-linecap="square"/>
<path d="M394,319 L394,340" stroke="#aaa" stroke-width="1" fill="none" stroke-linejoin="round" stroke-linecap="square"/>
<path d="M925,108.9 L1326,109.3 Q1331,109.3 1331,114.5 L1331,149 Q1331,154 1326,154 L919,154 L914.7,148 L914.7,117.5 Q915.5,110 925,108.9 Z" fill="white" stroke="#686868" stroke-width="2"/>
<rect x="386" y="317.5" width="8" height="4" fill="#686868"/>
<path d="M394,319 L411,319" stroke="#888" stroke-width="2" fill="none" stroke-linejoin="round" stroke-linecap="square"/>
<path d="M392.8,285 L399,278.3 L427.7,278.3 L433,285 Z" fill="#686868"/>
<rect x="404" y="281.5" width="18" height="2.6" fill="#fff"/>
<rect x="397" y="280.5" width="1.2" height="1.2" fill="#000"/><rect x="428" y="280.5" width="1.2" height="1.2" fill="#000"/>
<path d="M377,314.5 L375.5,312.5 L375.5,289 L382,284.5 L443,284.5 L450,289 L450,312.5 L448,314.5 Z" stroke="#686868" stroke-width="2" fill="none" stroke-linejoin="round" stroke-linecap="square"/>
<path d="M381,287.8 L403,287.8 M424,287.8 L446,287.8" stroke="#686868" stroke-width="1.6" fill="none" stroke-linejoin="round" stroke-linecap="square"/>
<path d="M403,286.5 L424,286.5" stroke="#686868" stroke-width="2" fill="none" stroke-linejoin="round" stroke-linecap="square"/>
<path d="M394,288 L394,314 M431,288 L431,314" stroke="#686868" stroke-width="2" fill="none" stroke-linejoin="round" stroke-linecap="square"/>
<path d="M390,314.5 Q394,312.5 398,314.5 M427,314.5 Q431,312.5 435,314.5" stroke="#686868" stroke-width="1.4" fill="none" stroke-linejoin="round" stroke-linecap="square"/>
<path d="M413.5,36 L413.5,770" stroke="#000" stroke-width="1" fill="none" stroke-linecap="butt"/>
<path d="M93,657.5 L352,657.5" stroke="#777" stroke-width="1" fill="none" stroke-dasharray="83,4,7,7,400"/>
<path d="M390,657.5 L413,657.5" stroke="#777" stroke-width="1" fill="none" />
<path d="M413,657.5 L513,657.5 M552,657.5 L1385,657.5" stroke="#000" stroke-width="1" fill="none" stroke-linecap="butt"/>
<path d="M1331.5,37 L1331.5,133" stroke="#000" stroke-width="1" fill="none" stroke-linecap="butt"/>
<path d="M413.5,43.5 L1331.5,43.5" stroke="#000" stroke-width="1" fill="none" stroke-linecap="butt"/>
<polygon points="417.1,44.4 419.5,45.1 423.0,45.2 423.5,45.8 427.5,45.8 428.0,46.5 432.0,46.5 432.0,40.5 428.0,40.5 427.5,41.2 423.5,41.2 423.0,41.8 419.5,41.9 417.1,42.6" fill="#000"/>
<polygon points="1327.9,44.4 1325.5,45.1 1322.0,45.2 1321.5,45.8 1317.5,45.8 1317.0,46.5 1313.0,46.5 1313.0,40.5 1317.0,40.5 1317.5,41.2 1321.5,41.2 1322.0,41.8 1325.5,41.9 1327.9,42.6" fill="#000"/>
<path d="M1306,109.5 L1385,109.5" stroke="#000" stroke-width="1" fill="none" stroke-linecap="butt"/>
<path d="M1378.5,109.5 L1378.5,657.5" stroke="#000" stroke-width="1" fill="none" stroke-linecap="butt"/>
<polygon points="1379.4,113.1 1380.1,115.5 1380.2,119.0 1380.8,119.5 1380.8,123.5 1381.5,124.0 1381.5,128.0 1375.5,128.0 1375.5,124.0 1376.2,123.5 1376.2,119.5 1376.8,119.0 1376.9,115.5 1377.6,113.1" fill="#000"/>
<polygon points="1379.4,653.9 1380.1,651.5 1380.2,648.0 1380.8,647.5 1380.8,643.5 1381.5,643.0 1381.5,639.0 1375.5,639.0 1375.5,643.0 1376.2,643.5 1376.2,647.5 1376.8,648.0 1376.9,651.5 1377.6,653.9" fill="#000"/>
<path d="M101.5,824 L101.5,1007 M724.5,823 L724.5,1007" stroke="#000" stroke-width="1" fill="none" stroke-linecap="butt"/>
<path d="M101.5,1000.5 L724.5,1000.5" stroke="#000" stroke-width="1" fill="none" stroke-linecap="butt"/>
<polygon points="105.1,1001.4 107.5,1002.1 111.0,1002.2 111.5,1002.8 115.5,1002.8 116.0,1003.5 120.0,1003.5 120.0,997.5 116.0,997.5 115.5,998.2 111.5,998.2 111.0,998.8 107.5,998.9 105.1,999.6" fill="#000"/>
<polygon points="720.9,1001.4 718.5,1002.1 715.0,1002.2 714.5,1002.8 710.5,1002.8 710.0,1003.5 706.0,1003.5 706.0,997.5 710.0,997.5 710.5,998.2 714.5,998.2 715.0,998.8 718.5,998.9 720.9,999.6" fill="#000"/>
<path d="M38,449.5 L107,449.5 M38,865.5 L107,865.5" stroke="#000" stroke-width="1" fill="none" stroke-linecap="butt"/>
<path d="M44.5,449.5 L44.5,865.5" stroke="#000" stroke-width="1" fill="none" stroke-linecap="butt"/>
<polygon points="45.4,453.1 46.1,455.5 46.2,459.0 46.8,459.5 46.8,463.5 47.5,464.0 47.5,468.0 41.5,468.0 41.5,464.0 42.2,463.5 42.2,459.5 42.8,459.0 42.9,455.5 43.6,453.1" fill="#000"/>
<polygon points="45.4,861.9 46.1,859.5 46.2,856.0 46.8,855.5 46.8,851.5 47.5,851.0 47.5,847.0 41.5,847.0 41.5,851.0 42.2,851.5 42.2,855.5 42.8,856.0 42.9,859.5 43.6,861.9" fill="#000"/>
<path d="M158,415.5 L230,415.5 M158,483.5 L230,483.5" stroke="#000" stroke-width="1" fill="none" stroke-linecap="butt"/>
<path d="M223.5,244 L223.5,483.5" stroke="#000" stroke-width="1" fill="none" stroke-linecap="butt"/>
<polygon points="224.4,419.1 225.1,421.5 225.2,425.0 225.8,425.5 225.8,429.5 226.5,430.0 226.5,434.0 220.5,434.0 220.5,430.0 221.2,429.5 221.2,425.5 221.8,425.0 221.9,421.5 222.6,419.1" fill="#000"/>
<polygon points="224.4,479.9 225.1,477.5 225.2,474.0 225.8,473.5 225.8,469.5 226.5,469.0 226.5,465.0 220.5,465.0 220.5,469.0 221.2,469.5 221.2,473.5 221.8,474.0 221.9,477.5 222.6,479.9" fill="#000"/>
<path d="M296,364.5 L356,364.5 M296,544.5 L357,544.5" stroke="#000" stroke-width="1" fill="none" stroke-linecap="butt"/>
<path d="M302.5,364.5 L302.5,544.5" stroke="#000" stroke-width="1" fill="none" stroke-linecap="butt"/>
<polygon points="303.4,368.1 304.1,370.5 304.2,374.0 304.8,374.5 304.8,378.5 305.5,379.0 305.5,383.0 299.5,383.0 299.5,379.0 300.2,378.5 300.2,374.5 300.8,374.0 300.9,370.5 301.6,368.1" fill="#000"/>
<polygon points="303.4,540.9 304.1,538.5 304.2,535.0 304.8,534.5 304.8,530.5 305.5,530.0 305.5,526.0 299.5,526.0 299.5,530.0 300.2,530.5 300.2,534.5 300.8,535.0 300.9,538.5 301.6,540.9" fill="#000"/>
<path d="M352,600.5 L401,600.5 M352,714.5 L401,714.5" stroke="#000" stroke-width="1" fill="none" stroke-linecap="butt"/>
<path d="M394.5,600.5 L394.5,714.5" stroke="#000" stroke-width="1" fill="none" stroke-linecap="butt"/>
<polygon points="395.4,604.1 396.1,606.5 396.2,610.0 396.8,610.5 396.8,614.5 397.5,615.0 397.5,619.0 391.5,619.0 391.5,615.0 392.2,614.5 392.2,610.5 392.8,610.0 392.9,606.5 393.6,604.1" fill="#000"/>
<polygon points="395.4,710.9 396.1,708.5 396.2,705.0 396.8,704.5 396.8,700.5 397.5,700.0 397.5,696.0 391.5,696.0 391.5,700.0 392.2,700.5 392.2,704.5 392.8,705.0 392.9,708.5 393.6,710.9" fill="#000"/>
<path d="M469,544.5 L564,544.5 M469,770.5 L564,770.5" stroke="#000" stroke-width="1" fill="none" stroke-linecap="butt"/>
<path d="M556.5,544.5 L556.5,770.5" stroke="#000" stroke-width="1" fill="none" stroke-linecap="butt"/>
<polygon points="557.4,548.1 558.1,550.5 558.2,554.0 558.8,554.5 558.8,558.5 559.5,559.0 559.5,563.0 553.5,563.0 553.5,559.0 554.2,558.5 554.2,554.5 554.8,554.0 554.9,550.5 555.6,548.1" fill="#000"/>
<polygon points="557.4,766.9 558.1,764.5 558.2,761.0 558.8,760.5 558.8,756.5 559.5,756.0 559.5,752.0 553.5,752.0 553.5,756.0 554.2,756.5 554.2,760.5 554.8,761.0 554.9,764.5 555.6,766.9" fill="#000"/>
<g transform="translate(858.00,31.20) rotate(0) scale(24.3) matrix(1,0,-0.34,1,0,0)" fill="none" stroke="#000" stroke-width="0.0700" stroke-linecap="round" stroke-linejoin="round"><path transform="translate(0.00,0)" d="M0,-1 L0,0 L0.34,0"/><path transform="translate(0.51,0)" d="M0.0,-0.75 L0.25,-1 L0.25,0"/></g>
<g transform="translate(403.90,987.10) rotate(0) scale(24.3) matrix(1,0,-0.34,1,0,0)" fill="none" stroke="#000" stroke-width="0.0700" stroke-linecap="round" stroke-linejoin="round"><path transform="translate(0.00,0)" d="M0,-1 L0,0 L0.34,0"/></g>
<g transform="translate(1365.00,393.00) rotate(-90) scale(24.3) matrix(1,0,-0.34,1,0,0)" fill="none" stroke="#000" stroke-width="0.0700" stroke-linecap="round" stroke-linejoin="round"><path transform="translate(0.00,0)" d="M0,-1 L0,0 M0.46,-1 L0.46,0 M0,-0.5 L0.46,-0.5"/></g>
<g transform="translate(289.10,470.10) rotate(-90) scale(24.3) matrix(1,0,-0.34,1,0,0)" fill="none" stroke="#000" stroke-width="0.0700" stroke-linecap="round" stroke-linejoin="round"><path transform="translate(0.00,0)" d="M0,-1 L0,0 M0.46,-1 L0.46,0 M0,-0.5 L0.46,-0.5"/><path transform="translate(0.69,0)" d="M0.0,-0.75 L0.25,-1 L0.25,0"/></g>
<g transform="translate(381.60,667.00) rotate(-90) scale(24.3) matrix(1,0,-0.34,1,0,0)" fill="none" stroke="#000" stroke-width="0.0700" stroke-linecap="round" stroke-linejoin="round"><path transform="translate(0.00,0)" d="M-0.72,-0.48 A0.26,0.275 0 1 0 -0.2,-0.48 A0.26,0.275 0 1 0 -0.72,-0.48 M-0.64,0.01 L-0.33,-1.0"/><path transform="translate(0.00,0)" d="M0,0 L0,-1 L0.32,-1 Q0.44,-1 0.44,-0.86 L0.44,-0.25 Q0.44,0 0.22,0 Z"/><path transform="translate(0.73,0)" d="M0,-0.78 Q0.02,-1 0.22,-1 Q0.44,-1 0.44,-0.76 Q0.44,-0.6 0.32,-0.48 L0,0 L0.44,0"/></g>
<g transform="translate(543.40,657.70) rotate(-90) scale(24.3) matrix(1,0,-0.34,1,0,0)" fill="none" stroke="#000" stroke-width="0.0700" stroke-linecap="round" stroke-linejoin="round"><path transform="translate(0.00,0)" d="M-0.72,-0.48 A0.26,0.275 0 1 0 -0.2,-0.48 A0.26,0.275 0 1 0 -0.72,-0.48 M-0.64,0.01 L-0.33,-1.0"/><path transform="translate(0.00,0)" d="M0,0 L0,-1 L0.32,-1 Q0.44,-1 0.44,-0.86 L0.44,-0.25 Q0.44,0 0.22,0 Z"/></g>
<g transform="translate(31.20,666.20) rotate(-90) scale(24.3) matrix(1,0,-0.34,1,0,0)" fill="none" stroke="#000" stroke-width="0.0700" stroke-linecap="round" stroke-linejoin="round"><path transform="translate(0.00,0)" d="M-0.72,-0.48 A0.26,0.275 0 1 0 -0.2,-0.48 A0.26,0.275 0 1 0 -0.72,-0.48 M-0.64,0.01 L-0.33,-1.0"/><path transform="translate(0.00,0)" d="M0,0 L0,-1 L0.32,-1 Q0.44,-1 0.44,-0.86 L0.44,-0.25 Q0.44,0 0.22,0 Z"/><path transform="translate(0.73,0)" d="M0,-0.92 C0.04,-1.02 0.36,-1.02 0.35,-0.8 C0.34,-0.66 0.26,-0.57 0.14,-0.55 C0.36,-0.55 0.45,-0.42 0.44,-0.25 C0.43,-0.08 0.3,0 0.02,0"/></g>
<g transform="translate(210.00,310.80) rotate(-90) scale(24.3) matrix(1,0,-0.34,1,0,0)" fill="none" stroke="#000" stroke-width="0.0700" stroke-linecap="round" stroke-linejoin="round"><path transform="translate(0.00,0)" d="M-0.72,-0.48 A0.26,0.275 0 1 0 -0.2,-0.48 A0.26,0.275 0 1 0 -0.72,-0.48 M-0.64,0.01 L-0.33,-1.0"/><path transform="translate(0.00,0)" d="M0,0 L0,-1 L0.32,-1 Q0.44,-1 0.44,-0.86 L0.44,-0.25 Q0.44,0 0.22,0 Z"/><path transform="translate(0.73,0)" d="M0.14,-1 L0,-0.2 L0.46,-0.2 M0.3,-0.47 L0.3,0"/></g>
<g transform="translate(255.80,328.80) rotate(-90) scale(24.3) matrix(1,0,-0.34,1,0,0)" fill="none" stroke="#000" stroke-width="0.0700" stroke-linecap="round" stroke-linejoin="round"><path transform="translate(0.00,0)" d="M0,0 L0,-0.7 L0.28,-0.7 Q0.38,-0.7 0.38,-0.6 L0.38,0"/><path transform="translate(0.92,0)" d="M0.1,-0.7 L0.28,-0.7 Q0.38,-0.7 0.38,-0.6 L0.38,-0.1 Q0.38,0 0.28,0 L0.1,0 Q0,0 0,-0.1 L0,-0.6 Q0,-0.7 0.1,-0.7 Z"/><path transform="translate(1.52,0)" d="M0,0 L0,-0.7 L0.2,-0.7 Q0.28,-0.7 0.28,-0.62 L0.28,0 M0.28,-0.62 Q0.28,-0.7 0.36,-0.7 L0.48,-0.7 Q0.56,-0.7 0.56,-0.62 L0.56,0"/><path transform="translate(2.32,0)" d="M0.1,-0.7 L0.28,-0.7 Q0.38,-0.7 0.38,-0.6 L0.38,-0.1 Q0.38,0 0.28,0 L0.1,0 Q0,0 0,-0.1 L0,-0.7 Q0,-0.92 0.1,-0.97 Q0.2,-1 0.18,-0.9 Q0.15,-0.78 0,-0.72"/><path transform="translate(2.87,0)" d="M0.02,-0.02 L0.04,0"/></g></svg></body></html>
